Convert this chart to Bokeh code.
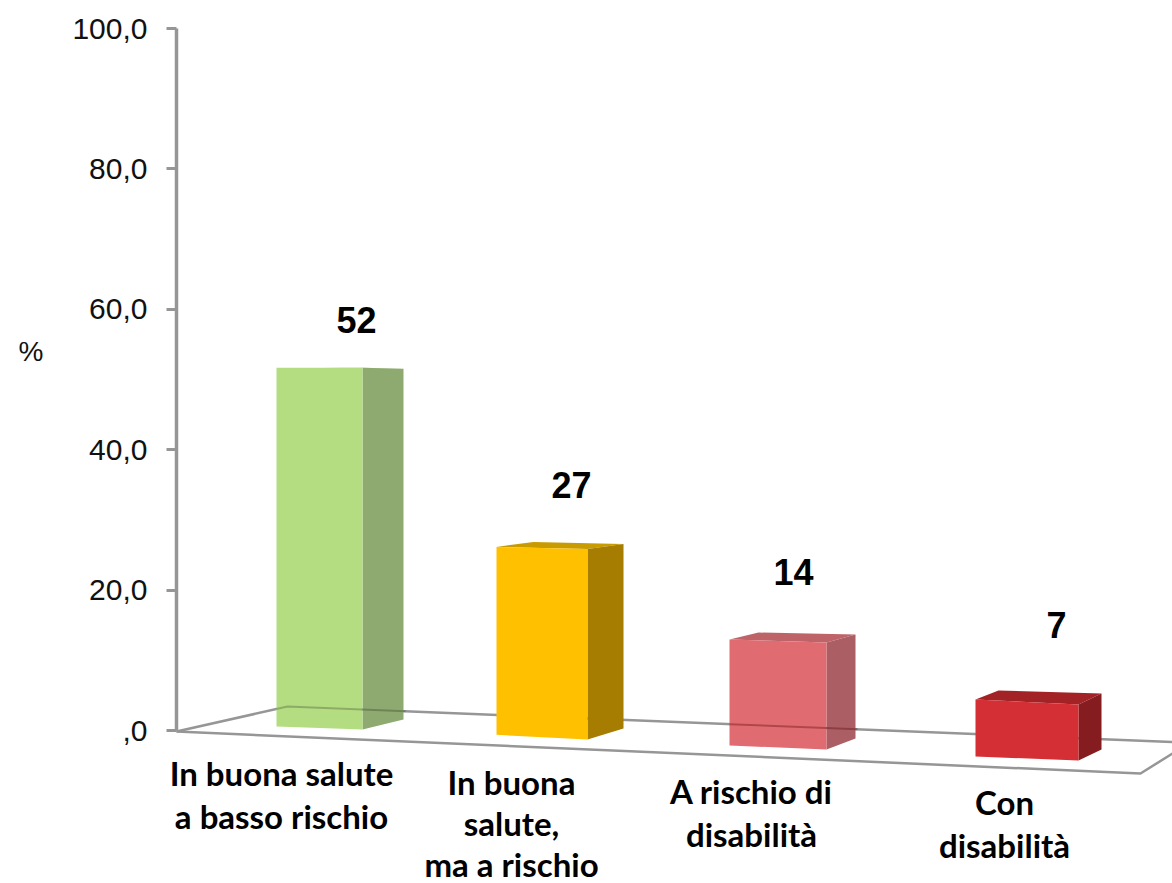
from bokeh.plotting import figure
from bokeh.embed import file_html
from bokeh.resources import INLINE
from bokeh.models import FixedTicker
from bokeh.core.properties import value

# ---- data ----
categories = ["In buona salute\na basso rischio", "In buona\nsalute,\nma a rischio",
              "A rischio di\ndisabilità", "Con\ndisabilità"]
values = [52, 27, 14, 7]
value_labels = ["52", "27", "14", "7"]
y_ticks = [0, 20, 40, 60, 80, 100]
y_tick_labels = [",0", "20,0", "40,0", "60,0", "80,0", "100,0"]
y_unit = "%"

# ---- colours ----
front_colors = ["#B4DD82", "#FFC000", "#E06C72", "#D32F34"]
side_colors = ["#8EAA70", "#A67D00", "#AB5F64", "#851C20"]
top_colors = ["#A9CC7E", "#C89B00", "#BE6468", "#A32226"]
GREY = "#969696"

# ---- layout (the x scale is in page pixels; y in axis units) ----
PX = 7.02
Y0 = 730


def py(y):
    return (Y0 - y) / PX


W, H = 1172, 883
AXIS_X = 176
front_left = [276, 496, 729, 975]
front_right = [362, 587, 826, 1078]
side_right = [403, 623, 855, 1101]
base_left = [726, 734.3, 745, 756]
base_right = [729, 739, 749, 760]
side_base_rise = [10, 11, 11, 11]
perspective = [6.90, 6.96, 7.57, 8.14]
top_drop = [0, 2, 3, 5]
top_side_rise = [-1, 5, 8, 11]
apex_dx = [46, 37, 29, 23]
apex_rise = [0, 5, 7, 9]
label_x = [356, 571, 793, 1056]
label_gap = [48, 62, 68, 75]
cat_x = [281, 511, 751, 1004]
cat_y = [772, 781, 790, 801]
cat_lh = [43, 41, 43, 43]

p = figure(width=W, height=H, output_backend="svg", toolbar_location=None,
           x_range=(0, W), y_range=(py(H), py(0)),
           x_axis_type=None, min_border_left=0, min_border_right=0,
           min_border_top=0, min_border_bottom=0, background_fill_color="white")
p.outline_line_color = None
p.xgrid.visible = False
p.ygrid.visible = False

ax = p.yaxis[0]
ax.fixed_location = AXIS_X
ax.ticker = FixedTicker(ticks=y_ticks)
ax.major_label_overrides = dict(zip(y_ticks, y_tick_labels))
ax.bounds = (0, 100)
ax.axis_line_color = GREY
ax.axis_line_width = 3.5
ax.major_tick_line_color = GREY
ax.major_tick_line_width = 3
ax.major_tick_in = 0
ax.major_tick_out = 10
ax.minor_tick_line_color = None
ax.major_label_standoff = 19
ax.major_label_text_font = "Liberation Sans"
ax.major_label_text_font_size = "30px"
ax.major_label_text_color = "#111111"

# floor
p.line([176, 287, 1172], [py(731), py(706), py(741.5)], line_color=GREY, line_width=2.5)
p.line([176, 1140, 1172], [py(731), py(773), py(753)], line_color=GREY, line_width=2.5)

# bars
for i, v in enumerate(values):
    t_l = base_left[i] - v * perspective[i]
    t_r = t_l + top_drop[i]
    t_s = t_r - top_side_rise[i]
    xl, xr, xs = front_left[i], front_right[i], side_right[i]
    b_l, b_r = base_left[i], base_right[i]
    p.patch([xl, xl + apex_dx[i], xs, xr], [py(t_l), py(t_l - apex_rise[i]), py(t_s), py(t_r)],
            fill_color=top_colors[i], line_color=None)
    p.patch([xr, xs, xs, xr], [py(t_r), py(t_s), py(b_r - side_base_rise[i]), py(b_r)],
            fill_color=side_colors[i], line_color=None)
    p.patch([xl, xr, xr, xl], [py(t_l), py(t_r), py(b_r), py(b_l)],
            fill_color=front_colors[i], line_color=None)


def back_y(x):
    return py(706 + (x - 287) * (741.5 - 706) / (1172 - 287))


# floor edge seen through the two translucent bars
p.line([276, 287, side_right[0] + 2], [py(708.5), py(706), back_y(side_right[0] + 2)],
       line_color="#000000", line_alpha=0.22, line_width=2)
p.line([front_left[2], side_right[2] + 2], [back_y(front_left[2]), back_y(side_right[2] + 2)],
       line_color="#5A0000", line_alpha=0.35, line_width=2)

# value labels
ly = [py(base_left[i] - values[i] * perspective[i] - label_gap[i]) for i in range(4)]
p.text(label_x, ly, text=value_labels, text_font=value("Liberation Sans"), text_font_style="bold",
       text_font_size="36px", text_align="center", text_baseline="middle", text_color="#000000")

# category labels
tx, ty, tt = [], [], []
for i, c in enumerate(categories):
    for j, line in enumerate(c.split("\n")):
        tx.append(cat_x[i])
        ty.append(py(cat_y[i] + j * cat_lh[i]))
        tt.append(line)
p.text(tx, ty, text=tt, text_font=value("Lato"), text_font_style="bold",
       text_font_size="33px", text_align="center", text_baseline="middle", text_color="#000000")

# unit
p.text([18], [py(351)], text=[y_unit], text_font=value("Liberation Sans"), text_font_size="28px",
       text_color="#111111", text_baseline="middle", text_align="left")

open("out.html", "w").write(file_html(p, INLINE))
